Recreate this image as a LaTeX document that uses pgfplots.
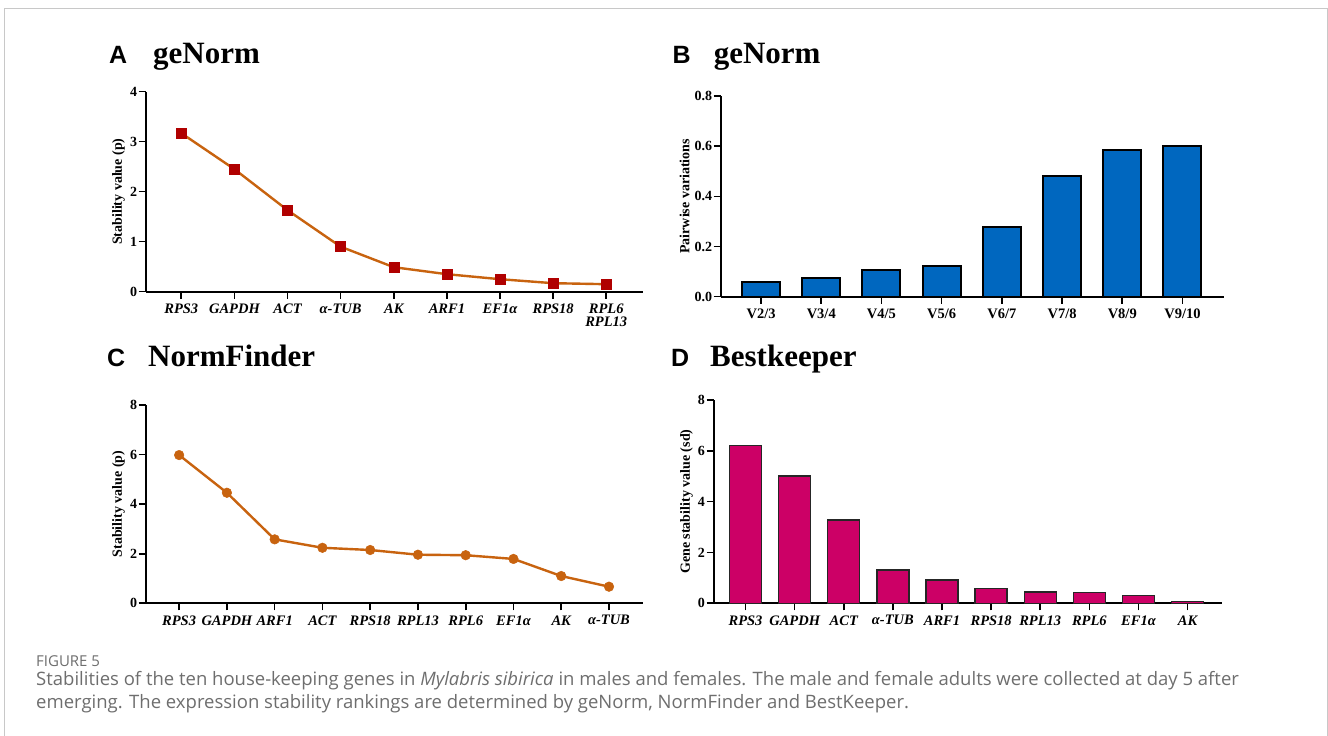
\documentclass[border=0pt]{standalone}
\usepackage{fontspec}
\setmainfont{Liberation Serif}
\newfontfamily\arial{Liberation Sans}
\newfontfamily\capfont{Open Sans}
\usepackage{pgfplots}
\pgfplotsset{compat=1.18}

\definecolor{lineor}{HTML}{C8630F}
\definecolor{mkred}{HTML}{B00000}
\definecolor{barblue}{HTML}{0067BF}
\definecolor{barpink}{HTML}{CC0066}
\definecolor{capgrey}{HTML}{6E6E6E}
\definecolor{framegrey}{HTML}{C8C8C8}

\pgfplotsset{
  panel/.style={
    scale only axis,
    axis x line=bottom, axis y line=left,
    axis line style={-, line width=1.8pt, black},
    tick align=outside,
    major tick length=7pt,
    major tick style={black, line width=1.6pt},
    minor tick num=0,
    ymin=0,
    clip=false,
    yticklabel style={font=\bfseries\fontsize{14}{14}\selectfont, inner sep=1.5pt},
    xticklabel style={font=\bfseries\itshape\fontsize{14.5}{13.5}\selectfont, align=center, inner sep=2pt, yshift=-3pt},
    ylabel style={font=\bfseries\fontsize{14}{15}\selectfont},
  }
}

\begin{document}
\begin{tikzpicture}[x=1pt,y=1pt]
\fill[white] (0,0) rectangle (1328,736);
\useasboundingbox (0,0) rectangle (1328,736);
\draw[framegrey, line width=1pt] (4.5,-1) -- (4.5,727.7) -- (1327,727.7) -- (1327,-1);

% Panel titles
\node[anchor=base west, inner sep=0, font=\arial\bfseries\fontsize{25}{25}\selectfont] at (109,672.7) {A};
\node[anchor=base west, inner sep=0, font=\bfseries\fontsize{31}{31}\selectfont] at (153,672.7) {geNorm};
\node[anchor=base west, inner sep=0, font=\arial\bfseries\fontsize{25}{25}\selectfont] at (672.5,672.7) {B};
\node[anchor=base west, inner sep=0, font=\bfseries\fontsize{31}{31}\selectfont] at (713.6,672.7) {geNorm};
\node[anchor=base west, inner sep=0, font=\arial\bfseries\fontsize{25}{25}\selectfont] at (107,369.5) {C};
\node[anchor=base west, inner sep=0, font=\bfseries\fontsize{31}{31}\selectfont] at (148,369.5) {NormFinder};
\node[anchor=base west, inner sep=0, font=\arial\bfseries\fontsize{25}{25}\selectfont] at (671,369.5) {D};
\node[anchor=base west, inner sep=0, font=\bfseries\fontsize{31}{31}\selectfont] at (710,369.5) {Bestkeeper};

% A
\begin{axis}[panel, at={(145.7pt,444.3pt)}, anchor=south west,
  width=497.2pt, height=200pt,
  xmin=-0.67, xmax=8.69, ymax=4,
  ytick={0,1,2,3,4}, yticklabels={0,1,2,3,4},
  xtick={0,...,8},
  xticklabels={RPS3,GAPDH,ACT,α-TUB,AK,ARF1,EF1α,RPS18,{RPL6\\RPL13}},
  ylabel={Stability value (p)}]
\addplot[lineor, line width=2.4pt, mark=square*, mark size=5pt,
  mark options={fill=mkred, draw=mkred, line width=0.5pt}]
  coordinates {(0,3.17)(1,2.45)(2,1.63)(3,0.90)(4,0.49)(5,0.35)(6,0.25)(7,0.17)(8,0.15)};
\end{axis}

% B
\begin{axis}[panel, at={(720.7pt,439.3pt)}, anchor=south west,
  width=503.3pt, height=200.7pt,
  xmin=-0.67, xmax=7.69, ymax=0.8,
  ytick={0,0.2,0.4,0.6,0.8}, yticklabels={0.0,0.2,0.4,0.6,0.8},
  xtick={0,...,7},
  xticklabels={V2/3,V3/4,V4/5,V5/6,V6/7,V7/8,V8/9,V9/10},
  xticklabel style={font=\bfseries\fontsize{14.5}{14}\selectfont},
  ylabel={Pairwise variations}, ybar, bar width=38pt]
\addplot[fill=barblue, draw=black, line width=2pt]
  coordinates {(0,0.060)(1,0.076)(2,0.106)(3,0.122)(4,0.279)(5,0.482)(6,0.585)(7,0.601)};
\end{axis}

% C
\begin{axis}[panel, at={(145.7pt,132.7pt)}, anchor=south west,
  width=497.2pt, height=198.3pt,
  xmin=-0.70, xmax=9.71, ymax=8,
  ytick={0,2,4,6,8}, yticklabels={0,2,4,6,8},
  xtick={0,...,9},
  xticklabels={RPS3,GAPDH,ARF1,ACT,RPS18,RPL13,RPL6,EF1α,AK,α-TUB},
  ylabel={Stability value (p)}]
\addplot[lineor, line width=2.4pt, mark=*, mark size=4.8pt,
  mark options={fill=lineor, draw=lineor, line width=0.5pt}]
  coordinates {(0,5.98)(1,4.46)(2,2.58)(3,2.24)(4,2.15)(5,1.96)(6,1.94)(7,1.79)(8,1.10)(9,0.67)};
\end{axis}

% D
\begin{axis}[panel, at={(713.6pt,132.7pt)}, anchor=south west,
  width=508.4pt, height=203.3pt,
  xmin=-0.65, xmax=9.70, ymax=8,
  ytick={0,2,4,6,8}, yticklabels={0,2,4,6,8},
  xtick={0,...,9},
  xticklabels={RPS3,GAPDH,ACT,α-TUB,ARF1,RPS18,RPL13,RPL6,EF1α,AK},
  ylabel={Gene stability value (sd)}, ybar, bar width=32pt]
\addplot[fill=barpink, draw=black!85, line width=1.4pt]
  coordinates {(0,6.22)(1,5.01)(2,3.28)(3,1.31)(4,0.92)(5,0.59)(6,0.45)(7,0.43)(8,0.31)(9,0.08)};
\end{axis}

% Caption
\node[anchor=base west, inner sep=0, font=\capfont\fontsize{15}{15}\selectfont, text=capgrey] at (36,69.3) {FIGURE 5};
\node[anchor=base west, inner sep=0, font=\capfont\fontsize{18.5}{18.5}\selectfont, text=capgrey] at (36,50) {Stabilities of the ten house-keeping genes in \textit{Mylabris sibirica} in males and females. The male and female adults were collected at day 5 after};
\node[anchor=base west, inner sep=0, font=\capfont\fontsize{18.5}{18.5}\selectfont, text=capgrey] at (36,27) {emerging. The expression stability rankings are determined by geNorm, NormFinder and BestKeeper.};
\end{tikzpicture}
\end{document}
